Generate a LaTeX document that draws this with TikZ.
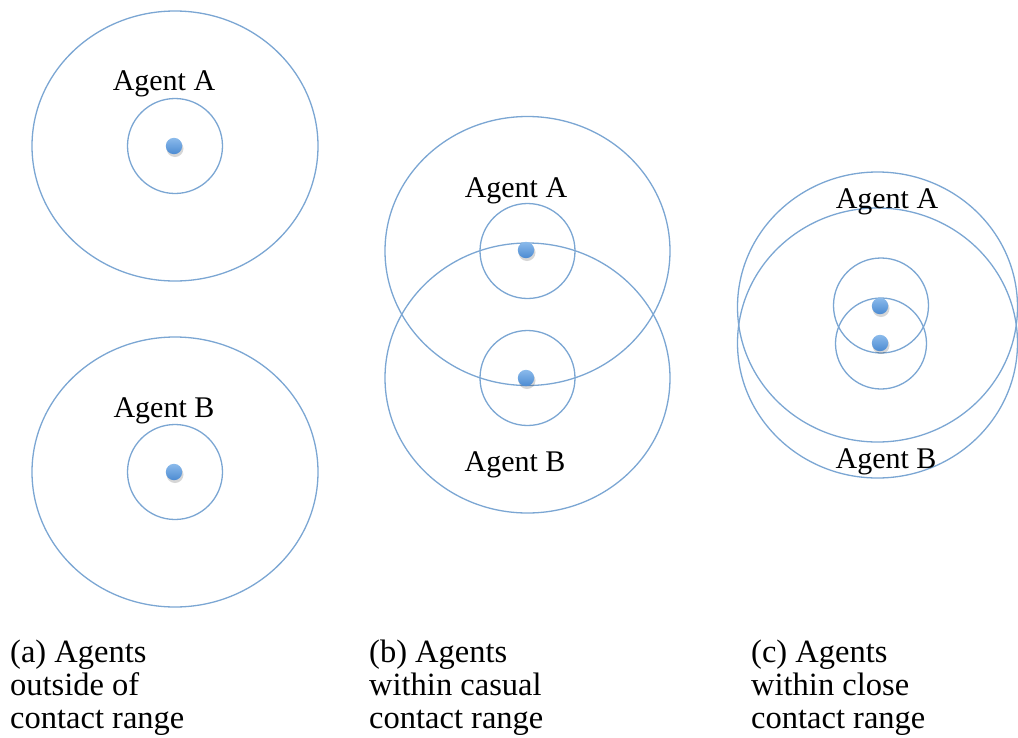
\documentclass[tikz,border=0pt]{standalone}
\usepackage{fontspec}
\setmainfont{Liberation Serif}
\begin{document}
\definecolor{ringblue}{HTML}{7BA6D3}
\definecolor{dottop}{HTML}{8BBBEB}
\definecolor{dotbot}{HTML}{4C8AD2}
\begin{tikzpicture}[x=1pt,y=-1pt,
  ring/.style={draw=ringblue,line width=1.3pt},
  agentlabel/.style={anchor=base,inner sep=0pt,font=\fontsize{30}{32}\selectfont},
  caption/.style={anchor=base west,inner sep=0pt,
    font=\fontsize{32.5}{34}\selectfont}]
\useasboundingbox (0,0) rectangle (1018,737);
% an agent: soft shadow and shaded dot
\newcommand\agentdot[2]{%
  \fill[black,opacity=0.16] (#1+1,#2+2.5) circle (8.5);
  \shade[top color=dottop,bottom color=dotbot] (#1,#2) circle (8.2);
}
% (a) outside of contact range
\draw[ring] (175,146) ellipse (143 and 135);
\draw[ring] (175,146) circle (47.5);
\agentdot{174}{146}
\node[agentlabel] (aA) at (164,90) {Agent A};
\draw[ring] (175,472) ellipse (143 and 135);
\draw[ring] (175,472) circle (47.5);
\agentdot{174}{472}
\node[agentlabel] (aB) at (164,417) {Agent B};
% (b) within casual contact range
\draw[ring] (527.5,251) ellipse (142.5 and 134.5);
\draw[ring] (527.5,251) circle (47.5);
\draw[ring] (527.5,378) ellipse (142.5 and 135);
\draw[ring] (527.5,378) circle (47.5);
\agentdot{526}{250}
\agentdot{526}{378}
\node[agentlabel] (bA) at (516,197) {Agent A};
\node[agentlabel] (bB) at (515,471) {Agent B};
% (c) within close contact range
\draw[ring] (877.5,307) ellipse (140 and 135);
\draw[ring] (877.5,343) ellipse (140 and 135);
\draw[ring] (881,305.5) circle (47.5);
\draw[ring] (881,343.5) circle (45.5);
\agentdot{880}{306}
\agentdot{880}{343}
\node[agentlabel] (cA) at (887,208) {Agent A};
\node[agentlabel] (cB) at (886,468) {Agent B};
% captions, one node per line
\foreach \x/\n/\la/\lb/\lc in {10/a/{(a) Agents}/{outside of}/{contact range},
    369/b/{(b) Agents}/{within casual}/{contact range},
    751/c/{(c) Agents}/{within close}/{contact range}} {
  \node[caption] (cap\n1) at (\x,662) {\la};
  \node[caption] (cap\n2) at (\x,695) {\lb};
  \node[caption] (cap\n3) at (\x,728) {\lc};
}
\end{tikzpicture}
\end{document}
